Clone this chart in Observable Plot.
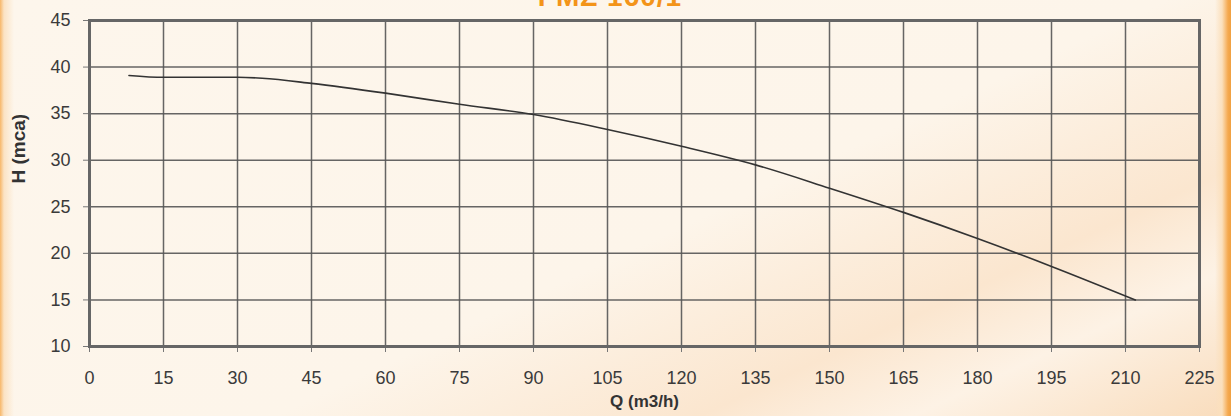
<!DOCTYPE html>
<html>
<head>
<meta charset="utf-8">
<script src="https://cdn.jsdelivr.net/npm/d3@7"></script>
<script src="https://cdn.jsdelivr.net/npm/@observablehq/plot@0.6"></script>
<style>
  html, body { margin: 0; padding: 0; width: 1231px; height: 416px; overflow: hidden; }
  body {
    position: relative;
    font-family: "Liberation Sans", Arial, sans-serif;
    background:
      linear-gradient(to right, #f7b769 0px, #fbe3c4 4px, rgba(253,244,232,0) 14px, rgba(253,244,232,0) 1215px, #fbe0bd 1222px, #f5a94f 1228px, #f0a040 1231px),
      linear-gradient(155deg, #fdf6ec 0%, #fdf5ea 55%, #fbe6cf 75%, #fdf2e5 85%, #f9dcbc 100%);
  }
  #title {
    position: absolute; top: -17px; left: 0; width: 1220px; text-align: center;
    font-size: 28px; line-height: 28px; font-weight: bold; color: #f39419; letter-spacing: 1px;
  }
  #chart { position: absolute; top: 0; left: 0; }
</style>
</head>
<body>
<div id="title">FMZ 160/1</div>
<div id="chart"></div>
<script>
const Q = [8, 15, 30, 35, 45, 60, 75, 90, 105, 120, 135, 150, 165, 180, 195, 212];
const H = [39.1, 38.9, 38.9, 38.8, 38.25, 37.2, 36.0, 34.9, 33.3, 31.5, 29.5, 27.0, 24.4, 21.6, 18.6, 15.0];
const xTicks = [0, 15, 30, 45, 60, 75, 90, 105, 120, 135, 150, 165, 180, 195, 210, 225];
const yTicks = [10, 15, 20, 25, 30, 35, 40, 45];
const xLabel = "Q (m3/h)";
const yLabel = "H (mca)";

const data = Q.map((q, i) => ({q, h: H[i]}));

const chart = Plot.plot({
  width: 1231,
  height: 416,
  marginLeft: 89,
  marginRight: 32,
  marginTop: 20,
  marginBottom: 70,
  style: {background: "transparent", fontFamily: "'Liberation Sans', Arial, sans-serif", fontSize: "18px", color: "#3a3a3a"},
  x: {domain: [0, 225]},
  y: {domain: [10, 45]},
  marks: [
    Plot.gridX(xTicks, {stroke: "#555", strokeOpacity: 0.9, strokeWidth: 1.5}),
    Plot.gridY(yTicks, {stroke: "#555", strokeOpacity: 0.9, strokeWidth: 1.5}),
    Plot.axisX(xTicks, {tickSize: 6, tickPadding: 19, stroke: "#777", label: null, fill: "#3a3a3a", fontSize: 18}),
    Plot.axisY(yTicks, {tickSize: 6, tickPadding: 13, stroke: "#777", label: null, fill: "#3a3a3a", fontSize: 18}),
    Plot.frame({stroke: "#666", strokeWidth: 3}),
    Plot.line(data, {x: "q", y: "h", stroke: "#333", strokeWidth: 1.6, curve: "monotone-x"}),
    Plot.text([xLabel], {frameAnchor: "bottom", dy: 60, fontWeight: "bold", fontSize: 17, fill: "#333"}),
    Plot.text([yLabel], {frameAnchor: "left", dx: -71, rotate: -90, fontWeight: "bold", fontSize: 19, fill: "#333"})
  ]
});
document.getElementById("chart").appendChild(chart);
</script>
</body>
</html>
